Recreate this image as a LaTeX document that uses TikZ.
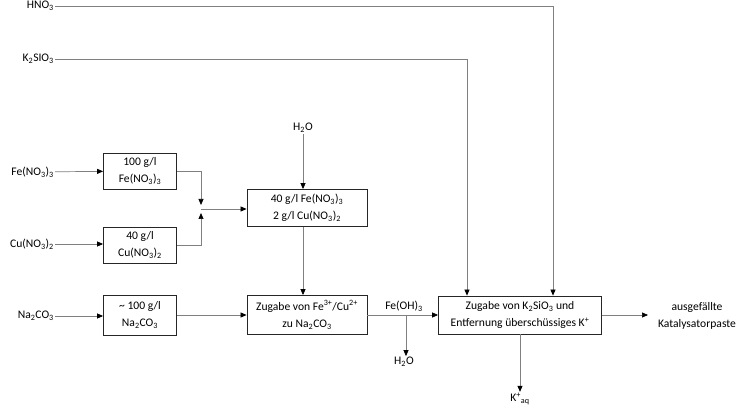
\documentclass[tikz,border=0pt]{standalone}
\usepackage{fontspec}
\setmainfont{Carlito}
\usetikzlibrary{arrows.meta,positioning,calc}
\newcommand{\tsub}[1]{\textsubscript{#1}}
\newcommand{\tsup}[1]{\textsuperscript{#1}}

\begin{document}
\begin{tikzpicture}[x=1pt,y=-1pt]
\tikzset{every node/.style={font=\fontsize{11.6}{17.5}\selectfont, align=center, inner sep=1pt}}
\tikzset{box/.style={draw=black!85, line width=0.8pt, inner sep=2pt}} % process boxes
\tikzset{flow/.style={draw=black!50, line width=0.7pt, -{Triangle[length=6pt,width=5pt,color=black]}}}

\useasboundingbox (0,0) rectangle (750,414);

% feeds on the left
\node[anchor=east] (hno) at (55,6) {HNO\tsub3};
\node[anchor=east] (ksi) at (55,59) {K\tsub2SIO\tsub3};
\node[anchor=east] (fein) at (55,172) {Fe(NO\tsub3)\tsub3};
\node[anchor=east] (cuin) at (55,244) {Cu(NO\tsub3)\tsub2};
\node[anchor=east] (nain) at (55,316) {Na\tsub2CO\tsub3};

% boxes
\node[box, minimum width=73pt, minimum height=36pt] (fe) at (140,171) {100 g/l\\Fe(NO\tsub3)\tsub3};
\node[box, minimum width=73pt, minimum height=36pt] (cu) at (140,245) {40 g/l\\Cu(NO\tsub3)\tsub2};
\node[box, minimum width=73pt, minimum height=40pt] (na) at (140,315) {\char`~\ 100 g/l\\Na\tsub2CO\tsub3};
\node[box, minimum width=120pt, minimum height=37pt] (sol) at (307,208) {40 g/l Fe(NO\tsub3)\tsub3\\2 g/l Cu(NO\tsub3)\tsub2};
\node[box, minimum width=120pt, minimum height=39pt] (zug) at (307,315) {Zugabe von Fe\tsup{3+}/Cu\tsup{2+}\\zu Na\tsub2CO\tsub3};
\node[box, minimum width=163pt, minimum height=38pt] (kat) at (520,315) {Zugabe von K\tsub2SiO\tsub3 und\\Entfernung überschüssiges K\tsup{+}};

% other texts
\node (wat) at (303,128) {H\tsub2O};
\node (feoh) at (404,306) {Fe(OH)\tsub3};
\node (wat2) at (404,362) {H\tsub2O};
\node (kaq) at (520,399) {K\tsup{+}\tsub{aq}};
\node (prod) at (697,316) {ausgefällte\\Katalysatorpaste};
\coordinate (mix) at (201,209);
\coordinate (split) at (406,315);
\coordinate (out) at (648,315);

% connections
\draw[flow] (hno.east) -| ([xshift=33pt]kat.north);
\draw[flow] (ksi.east) -| ([xshift=-53pt]kat.north);
\draw[flow] (fein) -- (fe);
\draw[flow] (cuin) -- (cuin -| cu.west);
\draw[flow] (nain) -- (nain -| na.west);
\draw[flow] (fe.east) -| ([yshift=4pt]mix);
\draw[flow] (cu.east) -| ([yshift=-4pt]mix);
\draw[flow] (mix) -- (mix -| sol.west);
\draw[flow] (wat) -- (wat |- sol.north);
\draw[flow] (wat |- sol.south) -- (wat |- zug.north);
\draw[flow] (na) -- (zug);
\draw[flow] (zug) -- (kat);
\draw[flow] (split) -- (wat2.north -| split);
\draw[flow] (kat.south) -- (kaq.north);
\draw[flow] (kat.east) -- (out);
\end{tikzpicture}
\end{document}
